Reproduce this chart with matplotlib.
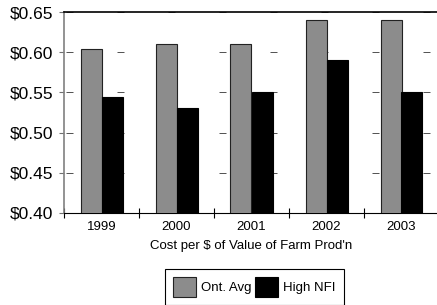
import matplotlib.pyplot as plt
import numpy as np

plt.rcParams['font.family'] = ['Liberation Sans', 'DejaVu Sans']

# data
years = ['1999', '2000', '2001', '2002', '2003']
ont_avg = [0.604, 0.610, 0.610, 0.640, 0.640]
high_nfi = [0.544, 0.530, 0.550, 0.590, 0.550]
y_ticks = [0.40, 0.45, 0.50, 0.55, 0.60, 0.65]

W, H = 437, 305
fig = plt.figure(figsize=(W / 100, H / 100), dpi=100)
ax = fig.add_axes([64 / W, 92 / H, 375 / W, 201 / H])

x = np.arange(len(years))
bw = 0.28
ax.bar(x - bw / 2, ont_avg, bw, color='#8c8c8c', edgecolor='#222222',
       linewidth=0.8, zorder=3, label='Ont. Avg')
ax.bar(x + bw / 2, high_nfi, bw, color='black', edgecolor='black',
       linewidth=0.8, zorder=3, label='High NFI')

ax.set_xlim(-0.5, len(years) - 0.5)
ax.set_ylim(0.40, 0.65)

# y axis
ax.set_yticks(y_ticks)
ax.set_yticklabels(['$%.2f' % v for v in y_ticks], fontsize=12.5)
ax.tick_params(axis='y', direction='out', length=3.6, width=0.8,
               color='#707070', pad=4)

# dashed gridlines (sparse dash pattern as in the original)
ax.yaxis.grid(True, linestyle=(49, (7, 44)), linewidth=0.72,
              color='#555555', zorder=1)
ax.set_axisbelow(True)

# x axis: ticks on boundaries, labels at centres
ax.set_xticks(np.arange(len(years) + 1) - 0.5)
ax.set_xticklabels([])
ax.set_xticks(x, minor=True)
ax.set_xticklabels(years, minor=True, fontsize=9.5)
ax.tick_params(axis='x', which='major', direction='inout', length=6.5,
               width=0.8, color='black')
ax.tick_params(axis='x', which='minor', length=0, pad=5.5)
ax.set_xlabel("Cost per $ of Value of Farm Prod'n", fontsize=9.5, labelpad=5.5)

ax.spines['left'].set_color('#808080')
ax.spines['left'].set_linewidth(1.2)
ax.spines['bottom'].set_color('black')
ax.spines['top'].set_color('black')
ax.spines['top'].set_linewidth(1.2)
ax.spines['right'].set_visible(False)

handles, labels = ax.get_legend_handles_labels()
leg = fig.legend(handles, labels, loc='upper left',
                 bbox_to_anchor=(165 / W, 1 - 269 / H), ncol=2,
                 fontsize=9.5, frameon=True, fancybox=False, framealpha=1,
                 edgecolor='black', borderaxespad=0, borderpad=0.6,
                 handlelength=1.75, handleheight=2.0, handletextpad=0.4,
                 columnspacing=0.25)
leg.get_frame().set_linewidth(0.8)

fig.savefig('out.png', dpi=100)
